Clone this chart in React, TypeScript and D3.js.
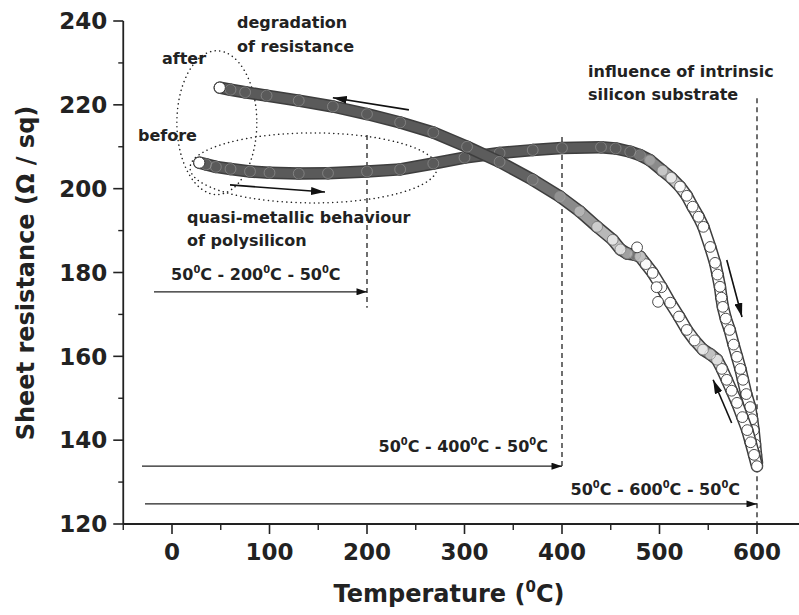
import React from "react";
import * as d3 from "d3";

// ---- data ----
const heatingT = [28, 35, 45, 60, 80, 100, 130, 160, 200, 234, 268, 300, 336, 370, 400, 440, 455, 470, 480, 490, 503, 512, 521, 528, 534, 540, 545, 552, 557, 559.5, 562, 563.5, 565, 568, 572, 576, 579.5, 583, 585.6, 589, 593, 595, 596.5, 598, 599, 600];
const heatingR = [206.2, 205.8, 205.2, 204.7, 204.1, 203.8, 203.6, 203.7, 204.1, 204.6, 206.0, 207.4, 208.5, 209.2, 209.7, 209.9, 209.6, 208.8, 208.0, 206.8, 204.3, 202.6, 200.5, 198.3, 195.7, 193.3, 190.9, 186.1, 182.3, 179.5, 176.6, 174.0, 171.8, 169.0, 166.3, 162.8, 159.9, 157.0, 154.4, 151.0, 147.9, 145.0, 142.4, 139.0, 136.5, 134.6];

const coolingT = [600, 597, 593.5, 590, 585, 579.5, 574, 569, 564, 559, 552, 544.6, 536, 528, 520, 511, 502, 493, 486, 480, 475, 467, 460, 452, 436, 418, 398, 370, 336, 302.6, 268, 234, 200, 165, 130, 97, 75, 60, 49];
const coolingR = [133.8, 136.5, 139.5, 142.4, 145.5, 148.9, 151.8, 154.4, 157.0, 159.2, 160.5, 161.6, 163.8, 166.3, 169.5, 172.8, 176.5, 179.9, 182.0, 183.8, 184.2, 184.5, 185.5, 187.8, 190.9, 194.6, 198.1, 202.1, 206.4, 210.0, 213.4, 215.8, 217.8, 219.6, 221.0, 222.2, 223.0, 223.6, 224.1];

const outlierT = [477, 497, 498.5];
const outlierR = [186.0, 176.5, 173.0];

const xTicks = [0, 100, 200, 300, 400, 500, 600];
const xMinorTicks = [-50, 50, 150, 250, 350, 450, 550];
const yTicks = [120, 140, 160, 180, 200, 220, 240];
const yMinorTicks = [130, 150, 170, 190, 210, 230];

// annealing cycles: peak temperature, arrow start T, arrow level R, dashed top R, dashed bottom R, label T, label R
const cyclePeak = [200, 400, 600];
const cycleArrowStartT = [-18.5, -30.8, -27.7];
const cycleArrowR = [175.4, 133.8, 124.8];
const cycleDashTopR = [212.8, 212.3, 221.6];
const cycleDashBottomR = [171.6, 133.7, 120];
const cycleLabelT = [86, 385.6, 582.6];
const cycleLabelR = [178.2, 137.2, 126.9];
const cycleLabelAnchor = ["middle", "end", "end"];

// direction arrows on the curves [fromT, fromR, toT, toR]
const curveArrows = [
  [243, 218.8, 165, 221.7],
  [59.5, 200.9, 156.9, 199.2],
  [569, 183.0, 584.6, 169.4],
  [574, 144.1, 555, 154.4],
];

// notes: text, T, R
const noteText = ["degradation", "of resistance", "after", "before", "quasi-metallic behaviour", "of polysilicon", "influence of intrinsic", "silicon substrate"];
const noteT = [66.7, 66.7, -10.3, -34.9, 15.4, 15.4, 426.7, 426.7];
const noteR = [238.3, 232.6, 229.7, 211.4, 191.8, 186.3, 226.6, 221.2];

// dotted ellipses: [T min, T max, R min, R max]
const ellipses = [
  [5, 87, 198.6, 232.9],
  [18.5, 271.8, 196.6, 213.3],
];

const W = 799;
const H = 615;
const FONT = "'DejaVu Sans', Verdana, sans-serif";

const x = d3.scaleLinear().domain([-50, 650]).range([123.25, 805.75]);
const y = d3.scaleLinear().domain([120, 240]).range([524, 21]);

function DegLabel(props: { x: number; y: number; peak: number; anchor: string; size: number }) {
  const { size } = props;
  const parts: [string, boolean][] = [
    ["50", false], ["0", true], ["C - " + props.peak, false], ["0", true], ["C - 50", false], ["0", true], ["C", false],
  ];
  const up = size * 0.42;
  let raised = false;
  return (
    <text x={props.x} y={props.y} textAnchor={props.anchor as any} fontFamily={FONT} fontWeight="bold" fontSize={size} fill="#222">
      {parts.map(([s, sup], i) => {
        let dy = 0;
        if (sup && !raised) { dy = -up; raised = true; }
        else if (!sup && raised) { dy = up; raised = false; }
        return (
          <tspan key={i} dy={dy} fontSize={sup ? size * 0.62 : size}>{s}</tspan>
        );
      })}
    </text>
  );
}

function Series(props: { T: number[]; R: number[]; id: string; whiteEnd: "first" | "last" }) {
  const { T, R } = props;
  const pts = T.map((t, i) => [x(t), y(R[i])]);
  const raw: number[] = [];
  for (let i = 0; i < pts.length - 1; i++) {
    const dx = pts[i + 1][0] - pts[i][0];
    const dy = pts[i + 1][1] - pts[i][1];
    const dT = Math.max(Math.abs(T[i + 1] - T[i]), 0.1);
    const L = Math.hypot(dx, dy) / (dT * 0.975);
    raw.push(Math.max(0, Math.min(1, (L - 1.12) / 0.45)));
  }
  const segT = raw.map((v, i) => {
    const a = raw[Math.max(0, i - 1)];
    const b = raw[Math.min(raw.length - 1, i + 1)];
    return (a + 2 * v + b) / 4;
  });
  const ptT = pts.map((_, i) => {
    const a = segT[Math.max(0, i - 1)];
    const b = segT[Math.min(segT.length - 1, i)];
    return (a + b) / 2;
  });
  const inner = d3.interpolateRgb("#5a5a5a", "#ffffff");
  const ring = d3.interpolateRgb("#a8a8a8", "#3a3a3a");
  const endIdx = props.whiteEnd === "first" ? 0 : pts.length - 1;
  return (
    <g>
      {pts.slice(0, -1).map((p, i) => (
        <line key={"o" + i} x1={p[0]} y1={p[1]} x2={pts[i + 1][0]} y2={pts[i + 1][1]} stroke="#3e3e3e" strokeWidth={12.5} strokeLinecap="round" />
      ))}
      {pts.slice(0, -1).map((p, i) => (
        <line key={"i" + i} x1={p[0]} y1={p[1]} x2={pts[i + 1][0]} y2={pts[i + 1][1]} stroke={inner(segT[i])} strokeWidth={9.5} strokeLinecap="round" />
      ))}
      {pts.map((p, i) => (
        <circle key={"c" + i} cx={p[0]} cy={p[1]} r={5.4} fill="#ffffff" fillOpacity={ptT[i]} stroke={ring(ptT[i])} strokeOpacity={0.55 + 0.45 * ptT[i]} strokeWidth={0.9} />
      ))}
      <circle cx={pts[endIdx][0]} cy={pts[endIdx][1]} r={5.6} fill="#fff" stroke="#333" strokeWidth={1} />
    </g>
  );
}

export default function App() {
  const axisColor = "#222";
  return (
    <svg width={W} height={H} style={{ position: "absolute", left: 0, top: 0, background: "#fff" }} xmlns="http://www.w3.org/2000/svg">
      <defs>
        <marker id="ah" viewBox="0 0 12 8" refX={12} refY={4} markerWidth={12} markerHeight={7} markerUnits="userSpaceOnUse" orient="auto">
          <path d="M0,0 L12,4 L0,8 z" fill="#111" />
        </marker>
        <marker id="ah2" viewBox="0 0 14 8" refX={14} refY={4} markerWidth={14} markerHeight={8} markerUnits="userSpaceOnUse" orient="auto">
          <path d="M0,0 L14,4 L0,8 z" fill="#111" />
        </marker>
      </defs>
      <rect width={W} height={H} fill="#fff" />

      {/* axes */}
      <line x1={x(-50)} y1={y(240)} x2={x(-50)} y2={y(120)} stroke={axisColor} strokeWidth={1.8} />
      <line x1={x(-50)} y1={y(120)} x2={x(650)} y2={y(120)} stroke={axisColor} strokeWidth={1.8} />
      {yTicks.map((v) => (
        <g key={"yt" + v}>
          <line x1={x(-50) - 10} x2={x(-50)} y1={y(v)} y2={y(v)} stroke={axisColor} strokeWidth={1.6} />
          <text x={x(-50) - 16} y={y(v) + 8.3} textAnchor="end" fontFamily={FONT} fontWeight="bold" fontSize={23} fill="#222">{v}</text>
        </g>
      ))}
      {yMinorTicks.map((v) => (
        <line key={"ym" + v} x1={x(-50) - 5} x2={x(-50)} y1={y(v)} y2={y(v)} stroke={axisColor} strokeWidth={1.4} />
      ))}
      {xTicks.map((v) => (
        <g key={"xt" + v}>
          <line x1={x(v)} x2={x(v)} y1={y(120)} y2={y(120) + 10} stroke={axisColor} strokeWidth={1.6} />
          <text x={x(v)} y={560} textAnchor="middle" fontFamily={FONT} fontWeight="bold" fontSize={23} fill="#222">{v}</text>
        </g>
      ))}
      {xMinorTicks.map((v) => (
        <line key={"xm" + v} x1={x(v)} x2={x(v)} y1={y(120)} y2={y(120) + 6} stroke={axisColor} strokeWidth={1.4} />
      ))}

      {/* axis titles */}
      <text x={449} y={602} textAnchor="middle" fontFamily={FONT} fontWeight="bold" fontSize={24} fill="#222">
        Temperature (<tspan dy={-10} fontSize={15}>0</tspan><tspan dy={10}>C)</tspan>
      </text>
      <text transform={`translate(34, ${273}) rotate(-90)`} textAnchor="middle" fontFamily={FONT} fontWeight="bold" fontSize={24} fill="#222">
        Sheet resistance (Ω / sq)
      </text>

      {/* dotted ellipses */}
      {ellipses.map((e, i) => (
        <ellipse key={"el" + i} cx={(x(e[0]) + x(e[1])) / 2} cy={(y(e[2]) + y(e[3])) / 2} rx={(x(e[1]) - x(e[0])) / 2} ry={(y(e[2]) - y(e[3])) / 2}
          fill="none" stroke="#222" strokeWidth={1.5} strokeDasharray="0.1 4.5" strokeLinecap="round" />
      ))}

      {/* dashed cycle lines and arrows */}
      {cyclePeak.map((p, i) => (
        <g key={"cy" + p}>
          <line x1={x(p)} x2={x(p)} y1={y(cycleDashTopR[i])} y2={y(cycleDashBottomR[i])} stroke="#222" strokeWidth={1.3} strokeDasharray="5 4" />
          <line x1={x(cycleArrowStartT[i])} x2={x(p)} y1={y(cycleArrowR[i])} y2={y(cycleArrowR[i])} stroke="#222" strokeWidth={1.3} markerEnd="url(#ah)" />
          <DegLabel x={x(cycleLabelT[i])} y={y(cycleLabelR[i])} peak={p} anchor={cycleLabelAnchor[i]} size={16} />
        </g>
      ))}

      {/* data */}
      <Series T={heatingT} R={heatingR} id="h" whiteEnd="first" />
      <Series T={coolingT} R={coolingR} id="c" whiteEnd="last" />
      {outlierT.map((t, i) => (
        <circle key={"out" + i} cx={x(t)} cy={y(outlierR[i])} r={5.4} fill="#fff" stroke="#333" strokeWidth={0.9} />
      ))}

      {/* direction arrows */}
      {curveArrows.map((a, i) => (
        <line key={"ca" + i} x1={x(a[0])} y1={y(a[1])} x2={x(a[2])} y2={y(a[3])} stroke="#111" strokeWidth={1.6} markerEnd="url(#ah2)" />
      ))}

      {/* notes */}
      {noteText.map((s, i) => (
        <text key={"n" + i} x={x(noteT[i])} y={y(noteR[i])} fontFamily={FONT} fontWeight="bold" fontSize={16} fill="#222">{s}</text>
      ))}
    </svg>
  );
}
